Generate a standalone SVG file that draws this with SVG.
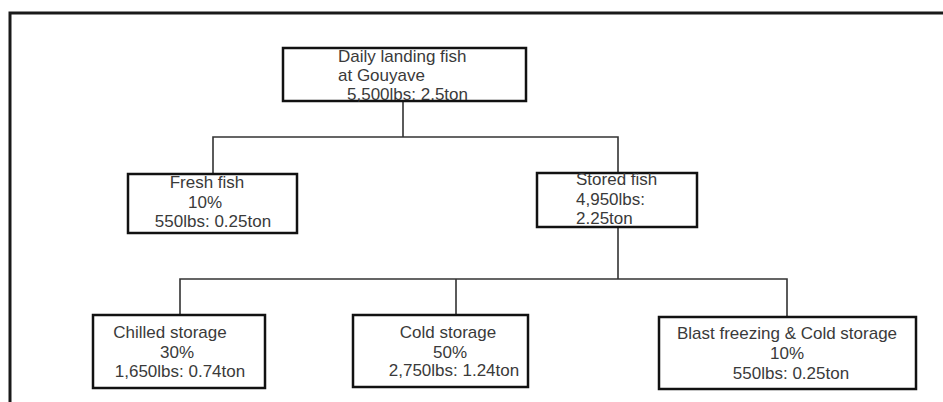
<svg xmlns="http://www.w3.org/2000/svg" width="943" height="402" viewBox="0 0 943 402">
<style>
.box{fill:#fff;stroke:#111;stroke-width:2.5}
.t{font-family:"Liberation Sans",Arial,sans-serif;font-size:17px;fill:#3a3a3a}
.c{text-anchor:middle}
.con{fill:none;stroke:#333;stroke-width:1.6}
.frame{fill:none;stroke:#1a1a1a;stroke-width:3}
</style>
<rect width="943" height="402" fill="#fff"/>
<path class="frame" d="M10,402 V13 H943"/>
<g id="connectors">
<path class="con" d="M403,101 V137 M213,174 V137 H618 V173"/>
<path class="con" d="M618,227 V279 M180,315 V279 H787 V317 M456,279 V315"/>
</g>
<g id="daily">
<rect class="box" x="283" y="48" width="243" height="53"/>
<text class="t" x="338" y="62">Daily landing fish</text>
<text class="t" x="338" y="81">at Gouyave</text>
<text class="t" x="347" y="100">5,500lbs: 2.5ton</text>
</g>
<g id="fresh">
<rect class="box" x="128" y="174" width="169" height="59"/>
<text class="t c" x="207" y="188">Fresh fish</text>
<text class="t c" x="205" y="208">10%</text>
<text class="t c" x="213" y="227">550lbs: 0.25ton</text>
</g>
<g id="stored">
<rect class="box" x="537" y="173" width="160" height="54"/>
<text class="t" x="576" y="185">Stored fish</text>
<text class="t" x="576" y="205">4,950lbs:</text>
<text class="t" x="576" y="224">2.25ton</text>
</g>
<g id="chilled">
<rect class="box" x="93" y="315" width="172" height="73"/>
<text class="t c" x="170" y="338">Chilled storage</text>
<text class="t c" x="177" y="358">30%</text>
<text class="t c" x="180" y="377">1,650lbs: 0.74ton</text>
</g>
<g id="cold">
<rect class="box" x="353" y="315" width="175" height="72"/>
<text class="t c" x="448" y="338">Cold storage</text>
<text class="t c" x="450" y="358">50%</text>
<text class="t c" x="454" y="376">2,750lbs: 1.24ton</text>
</g>
<g id="blast">
<rect class="box" x="659" y="317" width="257" height="72"/>
<text class="t c" x="787" y="339">Blast freezing &amp; Cold storage</text>
<text class="t c" x="787" y="359">10%</text>
<text class="t c" x="791" y="379">550lbs: 0.25ton</text>
</g>
</svg>
